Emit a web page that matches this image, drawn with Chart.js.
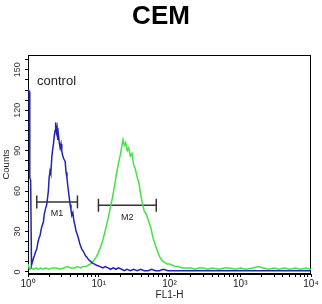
<!DOCTYPE html>
<html>
<head>
<meta charset="utf-8">
<script src="https://cdn.jsdelivr.net/npm/chart.js@4.4.1/dist/chart.umd.min.js"></script>
<style>
    body {margin: 0; background: #fff;}
    canvas {display: block;}
</style>
</head>
<body>
<canvas id="facsChart" width="322" height="304"></canvas>
<script>
// FL1-H channel values (log axis) and counts
const controlX = [1.0, 1.04, 1.06, 1.09, 1.12, 1.15, 1.19, 1.23, 1.28, 1.33, 1.38, 1.43, 1.48, 1.54, 1.6, 1.65, 1.7, 1.77, 1.84, 1.9, 1.94, 1.99, 2.05, 2.1, 2.17, 2.22, 2.29, 2.35, 2.41, 2.46, 2.52, 2.58, 2.64, 2.69, 2.77, 2.85, 2.93, 3.0, 3.1, 3.2, 3.35, 3.45, 3.55, 3.65, 3.73, 3.83, 3.94, 4.05, 4.16, 4.3, 4.45, 4.6, 4.75, 4.95, 5.16, 5.4, 5.76, 6.1, 6.5, 6.8, 7.2, 7.6, 8.0, 8.6, 9.3, 10.5, 11.4, 12.4, 13.5, 14.7, 16, 17.5, 19, 21, 23, 25, 28, 31, 35, 39, 44, 50, 56, 63, 72, 82, 95, 110, 130, 160, 200, 260, 330, 420, 550, 700, 900, 1200, 1600, 2100, 2800, 3700, 5000, 6500, 8500, 10000];
const controlCounts = [136, 134, 70, 68, 5, 7, 10, 12, 15, 17, 22, 25, 27, 32, 35, 37, 43, 47, 50, 56, 60, 70, 75, 73, 85, 90, 95, 101, 105, 111, 104, 107, 98, 102, 96, 92, 95, 90, 86, 84, 82, 74, 70, 64, 60, 55, 50, 46, 42, 44, 38, 35, 31, 28, 25, 21, 17, 15, 12, 11, 9, 8, 7, 6, 5, 4, 3, 4, 3, 2, 3, 2, 3, 2, 1, 2, 1, 2, 1, 2, 1, 1, 2, 1, 1, 2, 1, 1, 1, 1, 1, 1, 1, 1, 1, 1, 1, 1, 1, 1, 1, 1, 1, 1, 1, 1];

const sampleX = [1.0, 1.05, 1.1, 1.2, 1.3, 1.4, 1.5, 1.6, 1.8, 2.0, 2.2, 2.5, 2.8, 3.2, 3.6, 4.0, 4.5, 5.0, 5.5, 6.0, 6.6, 7.1, 7.6, 8.1, 8.6, 9.2, 9.8, 10.5, 11.2, 12, 12.8, 13.6, 14.6, 15.6, 16.6, 17.7, 18.9, 20.2, 21, 22, 23, 24, 25.3, 26.5, 28, 29.5, 31, 33, 35, 37, 39, 41, 44, 46, 49, 52, 55, 58, 62, 66, 70, 75, 80, 86, 92, 100, 110, 120, 135, 150, 170, 200, 230, 260, 300, 350, 400, 500, 600, 700, 850, 1000, 1200, 1500, 1800, 2100, 2500, 3000, 3500, 4200, 5000, 6000, 7000, 8500, 10000];
const sampleCounts = [6, 2, 3, 2, 3, 2, 3, 2, 3, 2, 3, 3, 2, 3, 4, 3, 3, 4, 3, 4, 4, 5, 6, 7, 9, 11, 14, 18, 22, 28, 34, 40, 48, 55, 63, 72, 80, 87, 92, 98, 94, 96, 90, 92, 86, 88, 80, 76, 70, 66, 58, 52, 45, 44, 40, 36, 32, 26, 21, 17, 13, 10, 8, 7, 6, 6, 5, 4, 4, 3, 3, 3, 2, 3, 3, 2, 3, 2, 3, 3, 2, 3, 2, 3, 4, 3, 2, 3, 2, 3, 2, 3, 2, 3, 2];

// marker gates: [start, end] on FL1-H and their height in counts
const m1Range = [1.33, 5.0];
const m1Level = 52;
const m2Range = [9.9, 65];
const m2Level = 49.5;

const xTicks = [1, 2, 3, 4, 5, 6, 7, 8, 9, 10, 20, 30, 40, 50, 60, 70, 80, 90, 100, 200, 300, 400, 500, 600, 700, 800, 900, 1000, 2000, 3000, 4000, 5000, 6000, 7000, 8000, 9000, 10000];
const xTickLabels = {1: '10\u2070', 10: '10\u00b9', 100: '10\u00b2', 1000: '10\u00b3', 10000: '10\u2074'};
const yTicks = [0, 7.5, 15, 22.5, 30, 37.5, 45, 52.5, 60, 67.5, 75, 82.5, 90, 97.5, 105, 112.5, 120, 127.5, 135, 142.5, 150, 157.5];
const yTickLabels = [0, 30, 60, 90, 120, 150];

const toPoints = (xs, ys) => xs.map((x, i) => ({x: x, y: ys[i]}));

const frameAndText = {
    id: 'frameAndText',
    beforeDatasetsDraw(chart) {
        const {ctx, chartArea} = chart;
        ctx.save();
        ctx.strokeStyle = '#000';
        ctx.lineWidth = 1;
        ctx.strokeRect(chartArea.left + 0.5, chartArea.top + 0.5, chartArea.right - chartArea.left - 1, chartArea.bottom - chartArea.top - 1);
        ctx.restore();
    },
    afterDraw(chart) {
        const {ctx, scales} = chart;
        ctx.save();
        ctx.fillStyle = '#000';
        ctx.textAlign = 'center';
        ctx.textBaseline = 'alphabetic';
        ctx.font = 'bold 26px "Liberation Sans", Arial, sans-serif';
        ctx.fillText('CEM', 161, 24);

        ctx.textAlign = 'left';
        ctx.fillStyle = '#222';
        ctx.font = '13px "Liberation Sans", Arial, sans-serif';
        ctx.fillText('control', 37, 85);

        ctx.textAlign = 'center';
        ctx.textBaseline = 'middle';
        ctx.font = '9px "Liberation Sans", Arial, sans-serif';
        [[m1Range, m1Level, 'M1'], [m2Range, m2Level, 'M2']].forEach(([range, level, name]) => {
            const x = (scales.x.getPixelForValue(range[0]) + scales.x.getPixelForValue(range[1])) / 2;
            const y = scales.y.getPixelForValue(level) + 12;
            ctx.fillText(name, x, y);
        });
        ctx.restore();
    }
};

const fontFamily = '"Liberation Sans", Arial, sans-serif';

new Chart(document.getElementById('facsChart'), {
    type: 'line',
    data: {
        datasets: [
            {
                label: 'control',
                data: toPoints(controlX, controlCounts),
                borderColor: 'rgb(35, 35, 180)',
                borderWidth: 1.5,
                pointRadius: 0,
                tension: 0
            },
            {
                label: 'CEM',
                data: toPoints(sampleX, sampleCounts),
                borderColor: 'rgb(70, 225, 70)',
                borderWidth: 1.5,
                pointRadius: 0,
                tension: 0
            },
            {
                label: 'M1',
                data: toPoints(m1Range, [m1Level, m1Level]),
                borderColor: '#333',
                borderWidth: 1.5,
                pointStyle: 'line',
                pointRotation: 90,
                pointRadius: 6.5,
                pointBorderWidth: 1.5,
                pointBorderColor: '#333'
            },
            {
                label: 'M2',
                data: toPoints(m2Range, [m2Level, m2Level]),
                borderColor: '#333',
                borderWidth: 1.5,
                pointStyle: 'line',
                pointRotation: 90,
                pointRadius: 6.5,
                pointBorderWidth: 1.5,
                pointBorderColor: '#333'
            }
        ]
    },
    options: {
        responsive: false,
        animation: false,
        layout: {padding: {top: 55, right: 11, left: 0, bottom: 0}},
        plugins: {
            legend: {display: false},
            tooltip: {enabled: false}
        },
        scales: {
            x: {
                type: 'logarithmic',
                min: 1,
                max: 10000,
                afterBuildTicks: scale => { scale.ticks = xTicks.map(v => ({value: v})); },
                afterFit: scale => { scale.height = 30; },
                grid: {drawOnChartArea: false, tickLength: 3, color: '#000'},
                border: {color: '#000', width: 1},
                ticks: {
                    autoSkip: false,
                    maxRotation: 0,
                    padding: 1,
                    color: '#222',
                    font: {family: fontFamily, size: 10},
                    callback: value => xTickLabels[value] || ''
                },
                title: {display: true, text: 'FL1-H', color: '#222', font: {family: fontFamily, size: 10}, padding: {top: 0, bottom: 3}}
            },
            y: {
                min: -1.5,
                max: 161,
                afterBuildTicks: scale => { scale.ticks = yTicks.map(v => ({value: v})); },
                afterFit: scale => { scale.width = 28; },
                grid: {drawOnChartArea: false, tickLength: 3, color: '#000'},
                border: {color: '#000', width: 1},
                ticks: {
                    autoSkip: false,
                    minRotation: 90,
                    maxRotation: 90,
                    crossAlign: 'center',
                    padding: 0,
                    color: '#333',
                    font: {family: fontFamily, size: 9},
                    callback: value => yTickLabels.includes(value) ? String(value) : ''
                },
                title: {display: true, text: 'Counts', color: '#222', font: {family: fontFamily, size: 9.5}, padding: {top: 1, bottom: 0}}
            }
        }
    },
    plugins: [frameAndText]
});
</script>
</body>
</html>
